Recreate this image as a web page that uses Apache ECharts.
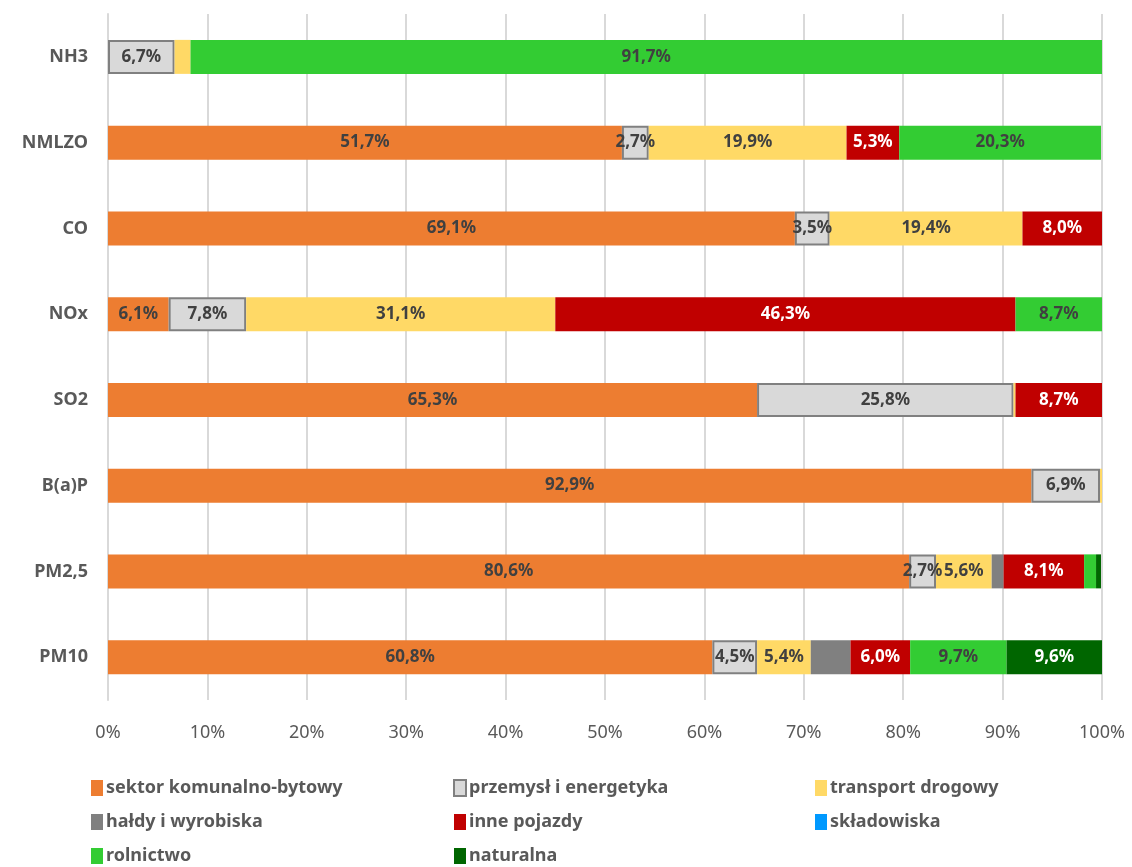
<!DOCTYPE html>
<html lang="pl">
<head>
    <meta charset="UTF-8">
    <title>Udział sektorów w emisji</title>
    <script src="https://cdn.jsdelivr.net/npm/echarts@6.0.0/dist/echarts.min.js"></script>
    <style>
        body { margin: 0; background: #fff; }
        #chart { width: 1132px; height: 867px; }
    </style>
</head>
<body>
<div id="chart"></div>
<script>
// kategorie od dołu do góry (oś kategorii w ECharts rośnie do góry)
const categories = ['PM10', 'PM2,5', 'B(a)P', 'SO2', 'NOx', 'CO', 'NMLZO', 'NH3'];

const seriesNames = ['sektor komunalno-bytowy', 'przemysł i energetyka', 'transport drogowy',
    'hałdy i wyrobiska', 'inne pojazdy', 'składowiska', 'rolnictwo', 'naturalna'];

const komunalny   = [60.8, 80.6, 92.9, 65.3, 6.1, 69.1, 51.7, 0];
const przemysl    = [4.5, 2.7, 6.9, 25.8, 7.8, 3.5, 2.7, 6.7];
const transport   = [5.4, 5.6, 0.2, 0.2, 31.1, 19.4, 19.9, 1.6];
const haldy       = [4.0, 1.2, 0, 0, 0, 0, 0, 0];
const innePojazdy = [6.0, 8.1, 0, 8.7, 46.3, 8.0, 5.3, 0];
const skladowiska = [0, 0, 0, 0, 0, 0, 0, 0];
const rolnictwo   = [9.7, 1.2, 0, 0, 8.7, 0, 20.3, 91.7];
const naturalna   = [9.6, 0.5, 0, 0, 0, 0, 0, 0];

const xTicks = [0, 10, 20, 30, 40, 50, 60, 70, 80, 90, 100];

const values = [komunalny, przemysl, transport, haldy, innePojazdy, skladowiska, rolnictwo, naturalna];
const colors = ['#ED7D31', '#D9D9D9', '#FFD966', '#808080', '#C00000', '#0099FF', '#33CC33', '#006600'];
const labelColors = ['#404040', '#404040', '#404040', '#404040', '#ffffff', '#404040', '#404040', '#ffffff'];
// hałdy i wyrobiska nie mają etykiet na oryginale
const showLabels = [true, true, true, false, true, true, true, true];

const FONT = 'Noto Sans';

function fmt(v) {
    return v.toFixed(1).replace('.', ',') + '%';
}

const series = seriesNames.map((name, i) => ({
    name: name,
    type: 'bar',
    stack: 'total',
    barWidth: 34,
    data: values[i],
    itemStyle: {
        color: colors[i],
        borderColor: i === 1 ? '#808080' : colors[i],
        borderWidth: i === 1 ? 2 : 0
    },
    label: {
        show: showLabels[i],
        position: 'inside',
        color: labelColors[i],
        fontFamily: FONT,
        fontWeight: 'bold',
        fontSize: 17,
        formatter: p => (p.value >= 2.5 ? fmt(p.value) : '')
    },
    emphasis: { disabled: true }
}));

// legenda w trzech kolumnach, jak w Excelu
const legendColumns = [
    { left: 91, names: [seriesNames[0], seriesNames[3], seriesNames[6]] },
    { left: 453, names: [seriesNames[1], seriesNames[4], seriesNames[7]] },
    { left: 815, names: [seriesNames[2], seriesNames[5]] }
];

const legends = legendColumns.map(col => ({
    orient: 'vertical',
    left: col.left,
    top: 779,
    padding: 0,
    itemWidth: 12,
    itemHeight: 16,
    itemGap: 16,
    icon: 'rect',
    selectedMode: false,
    textStyle: {
        color: '#595959',
        fontFamily: FONT,
        fontWeight: 'bold',
        fontSize: 18,
        padding: [0, 0, 0, -2]
    },
    data: col.names
}));

const chart = echarts.init(document.getElementById('chart'));
chart.setOption({
    animation: false,
    grid: { left: 108, right: 30, top: 14, bottom: 167, containLabel: false },
    xAxis: {
        type: 'value',
        min: xTicks[0],
        max: xTicks[xTicks.length - 1],
        interval: 10,
        axisLine: { show: false },
        axisTick: { show: false },
        splitLine: { lineStyle: { color: '#D9D9D9', width: 2 } },
        axisLabel: {
            formatter: '{value}%',
            color: '#595959',
            fontFamily: FONT,
            fontSize: 18,
            margin: 24
        }
    },
    yAxis: {
        type: 'category',
        data: categories,
        axisLine: { show: true, lineStyle: { color: '#D9D9D9', width: 2 } },
        axisTick: { show: false },
        axisLabel: {
            color: '#595959',
            fontFamily: FONT,
            fontWeight: 'bold',
            fontSize: 18,
            margin: 20
        }
    },
    legend: legends,
    series: series
});
</script>
</body>
</html>
